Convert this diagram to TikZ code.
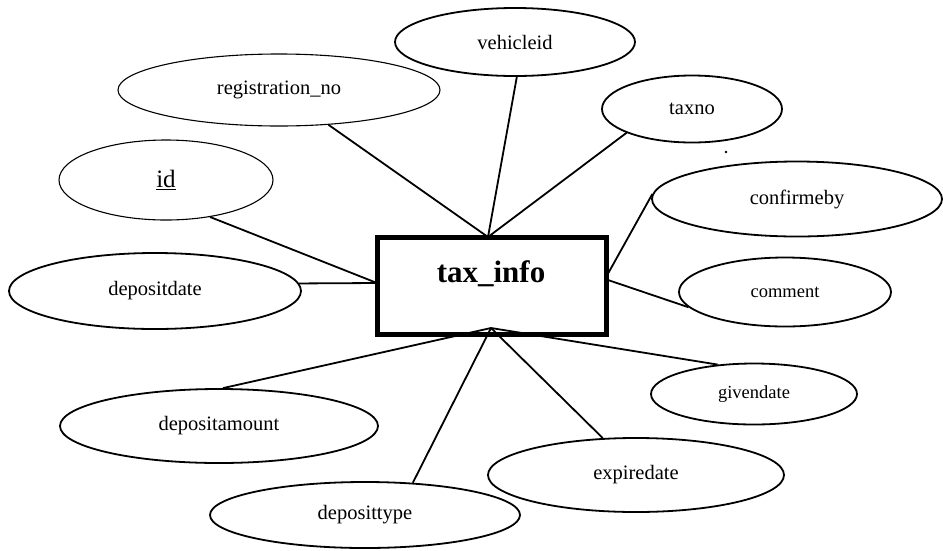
\documentclass[tikz,border=0pt]{standalone}
\usepackage{fontspec}
\setmainfont{Liberation Serif}
\usetikzlibrary{shapes.geometric}
\begin{document}
\begin{tikzpicture}[x=1pt,y=-1pt,
  attr/.style={draw, ellipse, inner sep=0pt, line width=1.8pt,
    font=\fontsize{20.5}{24}\selectfont},
  thinattr/.style={attr, line width=1.1pt},
  smallattr/.style={attr, font=\fontsize{18.5}{22}\selectfont},
  entity/.style={draw, rectangle, line width=5pt, inner sep=0pt,
    minimum width=229pt, minimum height=97pt},
  link/.style={line width=1.8pt}]
\useasboundingbox (0,0) rectangle (943,550);

% attributes
\node[attr, minimum width=240pt, minimum height=68pt] (vehicleid) at (515,42) {vehicleid};
\node[thinattr, minimum width=322pt, minimum height=72pt] (regno) at (279,90) {registration\_no};
\node[attr, minimum width=180pt, minimum height=67pt] (taxno) at (692,109) {taxno};
\node[thinattr, minimum width=214pt, minimum height=80pt, font=\fontsize{25}{30}\selectfont] (id) at (166,180) {\underline{id}};
\node[attr, minimum width=292pt, minimum height=76pt] (depositdate) at (155,291) {depositdate};
\node[attr, minimum width=290pt, minimum height=75pt] (confirmeby) at (797,199) {confirmeby};
\node[smallattr, minimum width=212pt, minimum height=69pt] (comment) at (785,292) {comment};
\node[smallattr, minimum width=206pt, minimum height=61pt] (givendate) at (754,394) {givendate};
\node[attr, minimum width=296pt, minimum height=74pt] (expiredate) at (636,475) {expiredate};
\node[attr, minimum width=318pt, minimum height=74pt] (depositamount) at (219,426) {depositamount};
\node[attr, minimum width=310pt, minimum height=66pt] (deposittype) at (365,515) {deposittype};

% points where the links meet the entity box
\coordinate (topj) at (488,237);
\coordinate (botj) at (491,328);
\coordinate (leftj) at (377,283);
\coordinate (rightj) at (605,279);

% links
\draw[link] (vehicleid.273) -- (topj);
\draw[link] (regno) -- (topj);
\draw[link] (taxno.200) -- (topj);
\draw[link] (id.320) -- (leftj);
\draw[link] (depositdate.3) -- (leftj);
\draw[link] (confirmeby.178) -- (rightj);
\draw[link] (comment.189) -- (rightj);
\draw[link] (givendate.141) -- (botj);
\draw[link] (expiredate.132) -- (botj);
\draw[link] (deposittype.34) -- (botj);
\draw[link] (depositamount.84) -- (botj);

% entity
\node[entity] (taxinfo) at (492,286) {};
\node[anchor=base, font=\bfseries\fontsize{31}{36}\selectfont] (title) at (491,282) {tax\_info};

% small mark near taxno
\fill (726,152) circle (1.3pt);
\end{tikzpicture}
\end{document}
